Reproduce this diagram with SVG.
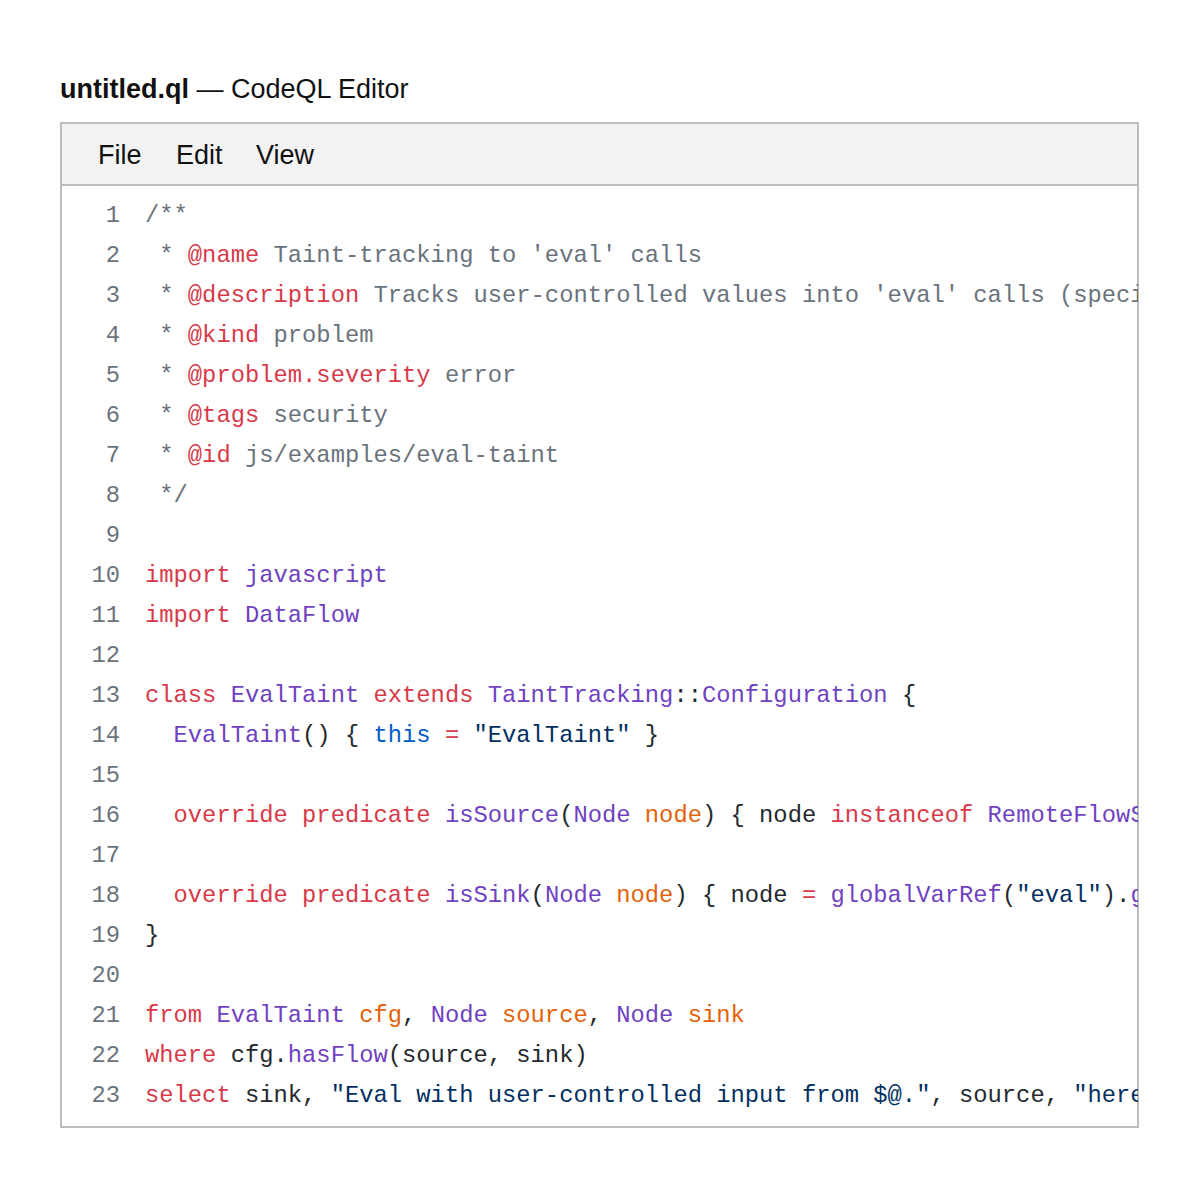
<svg xmlns="http://www.w3.org/2000/svg" width="1200" height="1196" viewBox="0 0 1200 1196">
<style>
.t{font-family:"Liberation Sans",Arial,sans-serif;font-size:27px;fill:#111}
.c{font-family:"Liberation Mono","DejaVu Sans Mono",monospace;font-size:23.8px;fill:#24292e;white-space:pre}
.n{fill:#6a737d;text-anchor:end}
.cm{fill:#6a737d}.k{fill:#d73a49}.p{fill:#6f42c1}.o{fill:#e36209}.s{fill:#032f62}.b{fill:#005cc5}
</style>
<defs><clipPath id="clip"><rect x="62" y="186" width="1076" height="940"/></clipPath></defs>
<rect width="1200" height="1196" fill="#fff"/>
<text class="t" x="60" y="98" font-size="28.9"><tspan font-weight="bold">untitled.ql</tspan> — CodeQL Editor</text>
<g id="window">
<rect x="61" y="123" width="1077" height="1004" fill="#fff" stroke="#bdbdbd" stroke-width="2"/>
<rect x="62" y="124" width="1075" height="61" fill="#f2f2f2"/>
<line x1="61" y1="185" x2="1138" y2="185" stroke="#bdbdbd" stroke-width="2"/>
<text class="t" x="98" y="164">File</text><text class="t" x="176" y="164">Edit</text><text class="t" x="256" y="164">View</text>
</g>
<g id="code" class="c" clip-path="url(#clip)" xml:space="preserve">
<text x="120" y="222" class="c n">1</text><text x="120" y="262" class="c n">2</text><text x="120" y="302" class="c n">3</text><text x="120" y="342" class="c n">4</text><text x="120" y="382" class="c n">5</text><text x="120" y="422" class="c n">6</text><text x="120" y="462" class="c n">7</text><text x="120" y="502" class="c n">8</text><text x="120" y="542" class="c n">9</text><text x="120" y="582" class="c n">10</text><text x="120" y="622" class="c n">11</text><text x="120" y="662" class="c n">12</text><text x="120" y="702" class="c n">13</text><text x="120" y="742" class="c n">14</text><text x="120" y="782" class="c n">15</text><text x="120" y="822" class="c n">16</text><text x="120" y="862" class="c n">17</text><text x="120" y="902" class="c n">18</text><text x="120" y="942" class="c n">19</text><text x="120" y="982" class="c n">20</text><text x="120" y="1022" class="c n">21</text><text x="120" y="1062" class="c n">22</text><text x="120" y="1102" class="c n">23</text>
<text x="145" y="222" class="c cm">/**</text>
<text x="145" y="262" class="c cm"> * <tspan class="k">@name</tspan> Taint-tracking to 'eval' calls</text>
<text x="145" y="302" class="c cm"> * <tspan class="k">@description</tspan> Tracks user-controlled values into 'eval' calls (special case of js/code-injection).</text>
<text x="145" y="342" class="c cm"> * <tspan class="k">@kind</tspan> problem</text>
<text x="145" y="382" class="c cm"> * <tspan class="k">@problem.severity</tspan> error</text>
<text x="145" y="422" class="c cm"> * <tspan class="k">@tags</tspan> security</text>
<text x="145" y="462" class="c cm"> * <tspan class="k">@id</tspan> js/examples/eval-taint</text>
<text x="145" y="502" class="c cm"> */</text>
<text x="145" y="582" class="c"><tspan class="k">import</tspan> <tspan class="p">javascript</tspan></text>
<text x="145" y="622" class="c"><tspan class="k">import</tspan> <tspan class="p">DataFlow</tspan></text>
<text x="145" y="702" class="c"><tspan class="k">class</tspan> <tspan class="p">EvalTaint</tspan> <tspan class="k">extends</tspan> <tspan class="p">TaintTracking</tspan>::<tspan class="p">Configuration</tspan> {</text>
<text x="145" y="742" class="c">  <tspan class="p">EvalTaint</tspan>() { <tspan class="b">this</tspan> <tspan class="k">=</tspan> <tspan class="s">"EvalTaint"</tspan> }</text>
<text x="145" y="822" class="c">  <tspan class="k">override</tspan> <tspan class="k">predicate</tspan> <tspan class="p">isSource</tspan>(<tspan class="p">Node</tspan> <tspan class="o">node</tspan>) { node <tspan class="k">instanceof</tspan> <tspan class="p">RemoteFlowSource</tspan> }</text>
<text x="145" y="902" class="c">  <tspan class="k">override</tspan> <tspan class="k">predicate</tspan> <tspan class="p">isSink</tspan>(<tspan class="p">Node</tspan> <tspan class="o">node</tspan>) { node <tspan class="k">=</tspan> <tspan class="p">globalVarRef</tspan>(<tspan class="s">"eval"</tspan>).<tspan class="p">getACall</tspan>().<tspan class="p">getArgument</tspan>(0) }</text>
<text x="145" y="942" class="c">}</text>
<text x="145" y="1022" class="c"><tspan class="k">from</tspan> <tspan class="p">EvalTaint</tspan> <tspan class="o">cfg</tspan>, <tspan class="p">Node</tspan> <tspan class="o">source</tspan>, <tspan class="p">Node</tspan> <tspan class="o">sink</tspan></text>
<text x="145" y="1062" class="c"><tspan class="k">where</tspan> cfg.<tspan class="p">hasFlow</tspan>(source, sink)</text>
<text x="145" y="1102" class="c"><tspan class="k">select</tspan> sink, <tspan class="s">"Eval with user-controlled input from $@."</tspan>, source, <tspan class="s">"here"</tspan></text>
</g>
</svg>
